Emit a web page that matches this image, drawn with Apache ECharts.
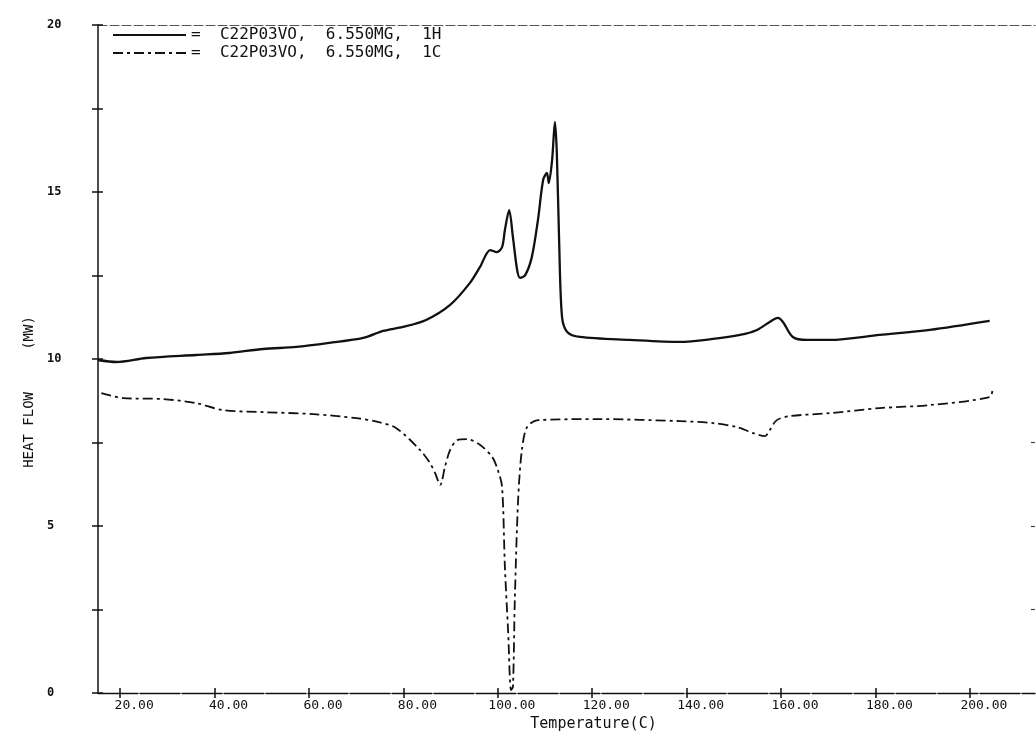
<!DOCTYPE html>
<html>
<head>
<meta charset="utf-8">
<script src="https://cdn.jsdelivr.net/npm/echarts@6/dist/echarts.min.js"></script>
<style>
  html, body { margin: 0; padding: 0; background: #fff; }
  #chart { width: 1036px; height: 738px; }
</style>
</head>
<body>
<div id="chart"></div>
<script>
  // heating run (1H)
  var heatTemp = [15.3, 19.2, 25.5, 36.1, 43.1, 50.3, 57.3, 64.3, 71.5, 75.7, 79.9, 84.8, 89.9, 94.1, 96.2, 98.4,
    99.8, 100.9, 101.5, 102.4, 103.2, 104.1, 104.7, 105.8, 107.2, 108.5, 109.6, 110.4, 110.8, 111.5, 112.1, 112.5,
    113.0, 113.6, 114.7, 117.4, 128.0, 138.6, 145.6, 151.3, 154.9, 157.6, 159.3, 160.4, 162.5, 165.5, 170.4, 180.9,
    191.5, 204.2];
  var heatFlow = [9.97, 9.91, 10.03, 10.12, 10.18, 10.30, 10.36, 10.48, 10.63, 10.84, 10.96, 11.17, 11.62, 12.28, 12.75, 13.26,
    13.20, 13.35, 13.86, 14.46, 13.65, 12.66, 12.43, 12.51, 13.05, 14.16, 15.36, 15.57, 15.27, 15.96, 17.10, 16.17,
    13.47, 11.26, 10.81, 10.66, 10.57, 10.51, 10.60, 10.72, 10.87, 11.11, 11.23, 11.11, 10.66, 10.57, 10.57, 10.72,
    10.87, 11.14];

  // cooling run (1C)
  var coolTemp = [16.0, 20.6, 29.1, 36.1, 41.8, 50.3, 60.9, 70.0, 74.8, 78.5, 83.5, 85.6, 86.7, 87.8, 88.8, 89.9,
    91.4, 93.5, 96.2, 98.8, 100.0, 100.9, 101.5, 102.2, 102.8, 103.2, 103.6, 104.3, 105.1, 106.2, 108.5, 121.6,
    138.6, 145.6, 150.7, 154.1, 156.6, 157.6, 159.1, 161.9, 170.4, 180.9, 191.5, 204.2, 204.8];
  var coolFlow = [8.98, 8.83, 8.80, 8.68, 8.47, 8.41, 8.35, 8.23, 8.11, 7.93, 7.28, 6.89, 6.59, 6.23, 6.77, 7.28,
    7.57, 7.60, 7.43, 7.07, 6.68, 6.17, 3.77, 1.80, 0.09, 0.18, 2.78, 5.78, 7.28, 7.96, 8.17, 8.20,
    8.14, 8.08, 7.96, 7.78, 7.69, 7.87, 8.17, 8.29, 8.38, 8.53, 8.62, 8.86, 9.07];

  var xTicks = [20, 40, 60, 80, 100, 120, 140, 160, 180, 200];
  var yLabels = [0, 5, 10, 15, 20];
  var rightTicks = [2.5, 5, 7.5];

  var legendNames = ['=  C22P03VO,  6.550MG,  1H', '=  C22P03VO,  6.550MG,  1C'];

  function zip(a, b) {
    return a.map(function (v, i) { return [v, b[i]]; });
  }

  var font = 'DejaVu Sans Mono';
  var ink = '#111';

  var myChart = echarts.init(document.getElementById('chart'));

  var option = {
    animation: false,
    backgroundColor: '#fff',
    color: [ink, ink],
    grid: { left: 98, right: 1, top: 25, bottom: 45, containLabel: false },
    legend: {
      orient: 'vertical',
      left: 107,
      top: 22,
      itemWidth: 73,
      itemHeight: 12,
      itemGap: 2,
      itemStyle: { opacity: 0 },
      textStyle: { fontFamily: font, fontSize: 16, color: ink },
      data: legendNames
    },
    xAxis: [
      {
        type: 'value', position: 'bottom', min: 15.3, max: 213.8,
        name: 'Temperature(C)', nameLocation: 'middle', nameGap: 22,
        nameTextStyle: { fontFamily: font, fontSize: 15, color: ink, padding: [0, 0, 0, 54] },
        axisLine: { show: true, onZero: false, lineStyle: { color: ink, width: 1.4, type: [40, 2] } },
        axisTick: { show: true, length: 5, customValues: xTicks, lineStyle: { color: ink, width: 1.5 } },
        axisLabel: {
          customValues: xTicks, margin: 6, fontFamily: font, fontSize: 13, color: ink,
          padding: [0, 0, 0, 28],
          formatter: function (v) { return v.toFixed(2); }
        },
        splitLine: { show: false }
      },
      {
        // inner half of the cross ticks
        type: 'value', position: 'bottom', min: 15.3, max: 213.8,
        axisLine: { show: false, onZero: false },
        axisTick: { show: true, inside: true, length: 5, customValues: xTicks, lineStyle: { color: ink, width: 1.5 } },
        axisLabel: { show: false },
        splitLine: { show: false }
      },
      {
        // dashed top frame
        type: 'value', position: 'top', min: 15.3, max: 213.8,
        axisLine: { show: true, onZero: false, lineStyle: { color: '#555', width: 1.1, type: [9, 3] } },
        axisTick: { show: false },
        axisLabel: { show: false },
        splitLine: { show: false }
      }
    ],
    yAxis: [
      {
        type: 'value', position: 'left', min: 0, max: 20, interval: 2.5,
        name: 'HEAT FLOW     (MW)', nameLocation: 'middle', nameGap: 46,
        nameTextStyle: { fontFamily: font, fontSize: 14, color: ink, padding: [0, 66, 0, 0] },
        axisLine: { show: true, onZero: false, lineStyle: { color: ink, width: 1.5 } },
        axisTick: { show: true, length: 6, lineStyle: { color: ink, width: 1.5 } },
        axisLabel: {
          customValues: yLabels, margin: 51, align: 'left',
          fontFamily: font, fontSize: 12, fontWeight: 'bold', color: ink
        },
        splitLine: { show: false }
      },
      {
        type: 'value', position: 'left', min: 0, max: 20, interval: 2.5,
        axisLine: { show: false, onZero: false },
        axisTick: { show: true, inside: true, length: 5, lineStyle: { color: ink, width: 1.5 } },
        axisLabel: { show: false },
        splitLine: { show: false }
      },
      {
        type: 'value', position: 'right', min: 0, max: 20,
        axisLine: { show: false, onZero: false },
        axisTick: { show: true, inside: true, length: 4, customValues: rightTicks, lineStyle: { color: '#444', width: 1.2 } },
        axisLabel: { show: false },
        splitLine: { show: false }
      }
    ],
    series: [
      {
        name: legendNames[0],
        type: 'line',
        smooth: 0.3,
        symbol: 'none',
        itemStyle: { color: ink },
        data: zip(heatTemp, heatFlow),
        lineStyle: { color: ink, width: 2.3 }
      },
      {
        name: legendNames[1],
        type: 'line',
        smooth: 0.3,
        symbol: 'none',
        itemStyle: { color: ink },
        data: zip(coolTemp, coolFlow),
        lineStyle: { color: ink, width: 1.8, type: [10, 4, 3, 4] }
      }
    ]
  };

  myChart.setOption(option);
</script>
</body>
</html>
